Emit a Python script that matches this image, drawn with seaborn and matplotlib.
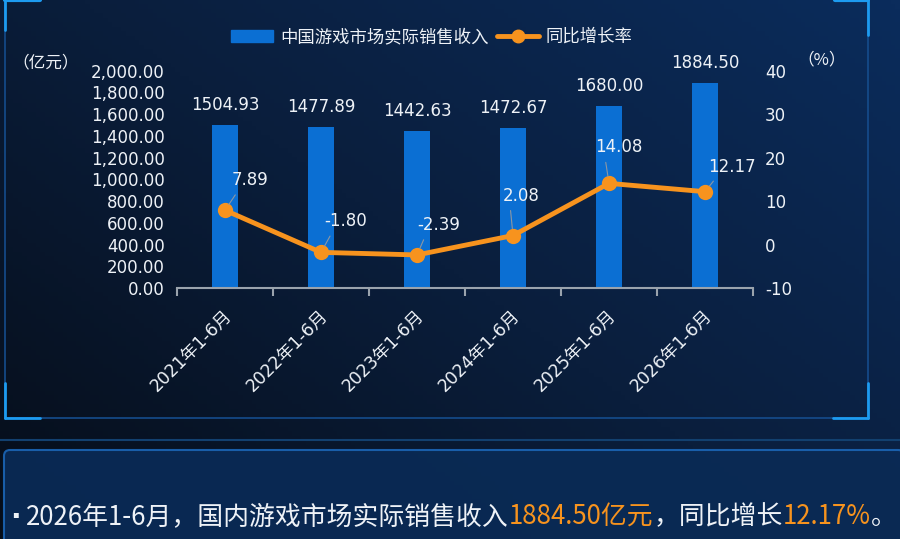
import numpy as np
import pandas as pd
import matplotlib
matplotlib.use('Agg')
import matplotlib.pyplot as plt
import seaborn as sns
from matplotlib.patches import Rectangle, FancyBboxPatch, Patch
from matplotlib.lines import Line2D
from matplotlib.ticker import FuncFormatter, FixedLocator
from matplotlib.transforms import ScaledTranslation

periods = ['2021年1-6月', '2022年1-6月', '2023年1-6月', '2024年1-6月', '2025年1-6月', '2026年1-6月']
revenue = [1504.93, 1477.89, 1442.63, 1472.67, 1680.00, 1884.50]
growth = [7.89, -1.80, -2.39, 2.08, 14.08, 12.17]
revenue_labels = ['1504.93', '1477.89', '1442.63', '1472.67', '1680.00', '1884.50']
growth_labels = ['7.89', '-1.80', '-2.39', '2.08', '14.08', '12.17']

# label offsets in pixels (dx, dy)
label_off = [(25, 30), (25, 31), (22, 30), (8, 40), (10, 36), (27, 25)]

df = pd.DataFrame({'period': periods, 'revenue': revenue, 'growth': growth})

sns.set_theme(style='white')
plt.rcParams['font.family'] = ['DejaVu Sans', 'Noto Sans CJK SC']
plt.rcParams['axes.unicode_minus'] = False
CJK = ['Noto Sans CJK SC', 'DejaVu Sans']

BLUE = '#0b6fd3'
ORANGE = '#f7931e'
WHITE = '#eef2f7'

fig = plt.figure(figsize=(9, 5.39), dpi=100)

# background gradient
bg = fig.add_axes([0, 0, 1, 1])
gx, gy = np.meshgrid(np.linspace(0, 1, 200), np.linspace(0, 1, 120))
grad = 0.55 * gx + 0.45 * (1 - gy)
cmap_bg = matplotlib.colors.LinearSegmentedColormap.from_list('bg', ['#060d18', '#0a1e3c', '#0b2c5c'])
bg.imshow(grad, cmap=cmap_bg, aspect='auto', extent=[0, 900, 539, 0], zorder=0)
bg.set_xlim(0, 900)
bg.set_ylim(539, 0)
bg.axis('off')

# main frame
bg.add_patch(Rectangle((5, -2), 863, 420, fill=False, ec='#154c8c', lw=1.2))
for (x0, y0, dx, dy) in [(5, 418, 1, -1), (868, 418, -1, -1)]:
    bg.plot([x0, x0 + 35 * dx], [y0, y0], color='#1d9bf0', lw=2)
    bg.plot([x0, x0], [y0, y0 + 35 * dy], color='#1d9bf0', lw=2)
bg.plot([5, 5], [0, 30], color='#1d9bf0', lw=2)
bg.plot([5, 40], [0, 0], color='#1d9bf0', lw=3)
bg.plot([868, 868], [0, 35], color='#1d9bf0', lw=2)
bg.plot([835, 868], [0, 0], color='#1d9bf0', lw=3)
bg.plot([0, 900], [440, 440], color='#12406f', lw=1.5)

# bottom panel
bg.add_patch(FancyBboxPatch((4, 450), 900, 100, boxstyle='round,pad=0,rounding_size=6',
                            fc='#0a2a55', ec='#1a62b0', lw=1.5, alpha=0.95))

# chart
ax = fig.add_axes([0.1967, 0.4657, 0.64, 0.403])
ax.patch.set_alpha(0)
sns.barplot(data=df, x='period', y='revenue', color=BLUE, width=0.27, saturation=1, ax=ax,
            zorder=2, edgecolor='none', linewidth=0)
ax.set_xlim(-0.5, len(periods) - 0.5)
ax.set_ylim(0, 2000)
ax.set_yticks(np.arange(0, 2001, 200))
ax.yaxis.set_major_formatter(FuncFormatter(lambda v, p: f'{v:,.2f}'))
ax.set_xlabel('')
ax.set_ylabel('')
for s in ['top', 'right', 'left']:
    ax.spines[s].set_visible(False)
ax.spines['bottom'].set_color('#9aa3ad')
ax.spines['bottom'].set_linewidth(1.5)
ax.tick_params(axis='y', length=0, labelsize=12, labelcolor=WHITE, pad=9)
ax.tick_params(axis='x', which='major', length=0, labelsize=12.5, labelcolor=WHITE, pad=18)
ax.xaxis.set_minor_locator(FixedLocator(np.arange(-0.5, len(periods), 1)))
ax.tick_params(axis='x', which='minor', length=6, width=1.5, color='#9aa3ad', bottom=True)
for lab in ax.get_xticklabels():
    lab.set_rotation(45)
    lab.set_ha('right')
    lab.set_va('center')
    lab.set_rotation_mode('anchor')
    lab.set_transform(lab.get_transform() + ScaledTranslation(4 / 100, 0, fig.dpi_scale_trans))

for i, v in enumerate(revenue):
    ax.annotate(revenue_labels[i], (i, v), xytext=(0, 20), textcoords='offset pixels',
                ha='center', va='center', color=WHITE, fontsize=12)

ax2 = ax.twinx()
ax2.patch.set_alpha(0)
xs = np.arange(len(periods))
sns.lineplot(x=xs, y=growth, ax=ax2, color=ORANGE, lw=3.5, marker='o', markersize=11,
             markeredgewidth=0, zorder=3)
ax2.set_ylim(-10, 40)
ax2.set_yticks(np.arange(-10, 41, 10))
for s in ['top', 'right', 'left', 'bottom']:
    ax2.spines[s].set_visible(False)
ax2.tick_params(axis='y', length=0, labelsize=12, labelcolor=WHITE, pad=8.6)
ax2.set_xlim(-0.5, len(periods) - 0.5)

for i, v in enumerate(growth):
    ax2.annotate(growth_labels[i], (i, v), xytext=label_off[i], textcoords='offset pixels',
                 ha='center', va='center', color=WHITE, fontsize=12,
                 arrowprops=dict(arrowstyle='-', color='#8d97a3', lw=0.8, shrinkA=2, shrinkB=5,
                                 relpos=(0.2, 0.0)))

fig.text(46 / 900, 1 - 63 / 539, '（亿元）', color=WHITE, fontsize=12, ha='center', va='center',
         family=CJK)
fig.text(822 / 900, 1 - 60 / 539, '（%）', color=WHITE, fontsize=12, ha='center', va='center',
         family=CJK)

handles = [Patch(color=BLUE), Line2D([], [], color=ORANGE, lw=3.5, marker='o', markersize=9)]
leg = fig.legend(handles, ['中国游戏市场实际销售收入', '同比增长率'], loc='center',
                 bbox_to_anchor=(432 / 900, 1 - 37 / 539), ncol=2, frameon=False,
                 prop={'family': CJK, 'size': 12.5}, handlelength=2.4, handletextpad=0.4,
                 columnspacing=0.5)
for t in leg.get_texts():
    t.set_color(WHITE)

# bottom summary line
fig.text(15 / 900, 1 - 517 / 539, '·', color=WHITE, fontsize=20, ha='center', va='center',
         weight='bold')
parts = [('2026年1-6月，国内游戏市场实际销售收入', WHITE), ('1884.50亿元', ORANGE),
         ('，同比增长', WHITE), ('12.17%', ORANGE), ('。', WHITE)]
renderer = fig.canvas.get_renderer()
x = 26 / 900
for txt, col in parts:
    t = fig.text(x, 1 - 517 / 539, txt, color=col, fontsize=18.6, ha='left', va='center',
                 family=CJK)
    bb = t.get_window_extent(renderer=renderer)
    x += bb.width / fig.bbox.width

fig.savefig('out.png', dpi=100)
